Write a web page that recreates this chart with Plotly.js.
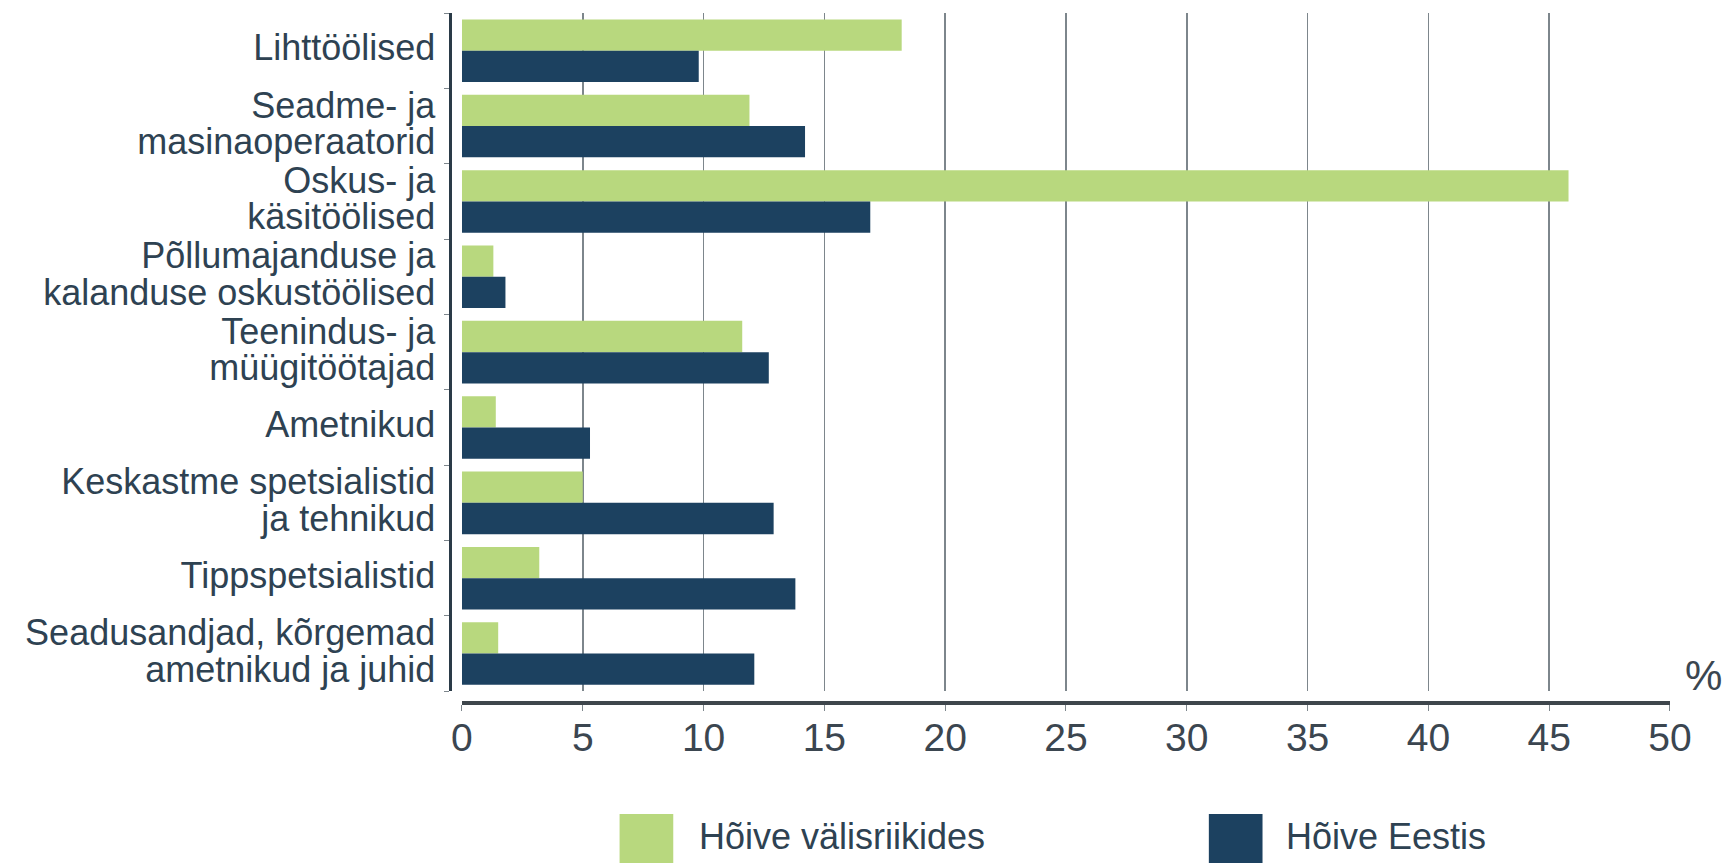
<!DOCTYPE html>
<html>
<head>
<meta charset="utf-8">
<script src="https://cdn.plot.ly/plotly-3.0.1.min.js"></script>
<style>
  html, body { margin: 0; padding: 0; background: #fff; }
  #chart { width: 1736px; height: 863px; }
</style>
</head>
<body>
<div id="chart"></div>
<script>
// occupation groups, top to bottom
var categories = [
    'Lihttöölised',
    'Seadme- ja<br>masinaoperaatorid',
    'Oskus- ja<br>käsitöölised',
    'Põllumajanduse ja<br>kalanduse oskustöölised',
    'Teenindus- ja<br>müügitöötajad',
    'Ametnikud',
    'Keskastme spetsialistid<br>ja tehnikud',
    'Tippspetsialistid',
    'Seadusandjad, kõrgemad<br>ametnikud ja juhid'
];

var seriesNames = ['Hõive välisriikides', 'Hõive Eestis'];

// % of employed
var abroadValues = [18.2, 11.9, 45.8, 1.3, 11.6, 1.4, 5.0, 3.2, 1.5];
var estoniaValues = [9.8, 14.2, 16.9, 1.8, 12.7, 5.3, 12.9, 13.8, 12.1];

var xTicks = [0, 5, 10, 15, 20, 25, 30, 35, 40, 45, 50];

var green = '#b8d87e';
var navy = '#1c4160';
var textColor = '#2e4252';
var fontFamily = '"Liberation Sans", Arial, sans-serif';

// labels are set larger than the tick font so the lines sit tight together
var tickText = categories.map(function(c) {
    return c.split('<br>').map(function(s) {
        return '<span style="font-size:36px">' + s + '</span>';
    }).join('<br>');
});

var data = [{
    type: 'bar',
    orientation: 'h',
    name: seriesNames[0],
    y: categories,
    x: abroadValues,
    marker: {color: green},
    hoverinfo: 'x+name'
}, {
    type: 'bar',
    orientation: 'h',
    name: seriesNames[1],
    y: categories,
    x: estoniaValues,
    marker: {color: navy},
    hoverinfo: 'x+name'
}];

// legend drawn by hand so the swatches can be large squares
function legendSwatch(x0, color) {
    return {
        type: 'rect', xref: 'paper', yref: 'paper',
        x0: x0, x1: x0 + 0.044, y0: -0.161, y1: -0.25,
        fillcolor: color, line: {width: 0}
    };
}

function legendText(x, txt) {
    return {
        xref: 'paper', yref: 'paper', x: x, y: -0.194,
        xanchor: 'left', yanchor: 'middle', showarrow: false,
        text: txt, font: {size: 36, color: textColor, family: fontFamily}
    };
}

var layout = {
    width: 1736,
    height: 863,
    margin: {l: 450, r: 66, t: 13, b: 160},
    paper_bgcolor: '#ffffff',
    plot_bgcolor: '#ffffff',
    font: {family: fontFamily, color: textColor},
    showlegend: false,
    barmode: 'group',
    bargap: 0.17,
    bargroupgap: 0,
    xaxis: {
        domain: [0.0098, 1],
        range: [0, 50],
        tickvals: xTicks,
        anchor: 'free',
        position: 0,
        showgrid: true,
        gridcolor: '#7d868c',
        gridwidth: 1.5,
        zeroline: false,
        showline: true,
        linecolor: '#3e464c',
        linewidth: 4,
        ticks: 'outside',
        ticklen: 6,
        tickcolor: '#7d868c',
        ticklabelstandoff: -7,
        tickfont: {size: 39, color: '#3b4650'}
    },
    yaxis: {
        domain: [0.017, 1],
        autorange: 'reversed',
        anchor: 'free',
        position: 0,
        showline: true,
        linecolor: '#2a3a47',
        linewidth: 3,
        showgrid: false,
        ticks: 'outside',
        tickson: 'boundaries',
        ticklen: 5,
        tickcolor: '#7d868c',
        ticklabelstandoff: 8,
        tickmode: 'array',
        tickvals: categories,
        ticktext: tickText,
        tickfont: {size: 28, color: textColor}
    },
    shapes: [legendSwatch(0.139, green), legendSwatch(0.622, navy)],
    annotations: [
        legendText(0.2025, seriesNames[0]),
        legendText(0.6836, seriesNames[1]),
        {
            xref: 'paper', yref: 'paper', x: 1.0107, y: 0.04,
            xanchor: 'left', yanchor: 'middle', showarrow: false,
            text: '%', font: {size: 42, color: '#3b4650', family: fontFamily}
        }
    ]
};

Plotly.newPlot('chart', data, layout, {displayModeBar: false, staticPlot: true});
</script>
</body>
</html>
